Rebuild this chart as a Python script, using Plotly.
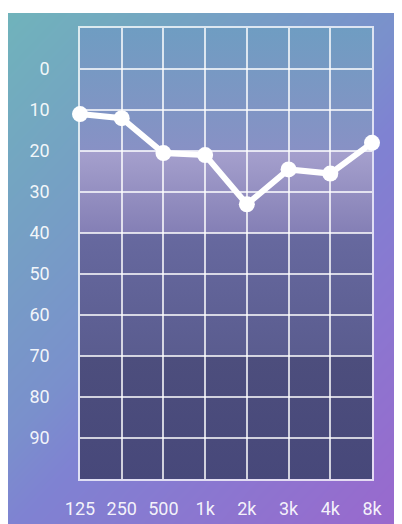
import plotly.graph_objects as go

# ---- data ----
freq_labels = ["125", "250", "500", "1k", "2k", "3k", "4k", "8k"]
threshold_db = [11, 12, 20.5, 21, 33, 24.5, 25.5, 18]
y_ticks = list(range(-10, 101, 10))
y_ticktext = ["" if v in (-10, 100) else str(v) for v in y_ticks]
band_edges = [-10, 20, 40, 70, 100]
band_colors = [("#6f9dc2", "#8891c5"), ("#a5a0cd", "#847fb5"),
               ("#67699f", "#5a5c8f"), ("#4d4e7d", "#47487a")]

W, H = 402, 524
OFF = 8  # page body margin compensation
# background corner colours
TL, TR, BL, BR = "#70b3bb", "#7a90cc", "#7f82d2", "#9b67cd"

fig = go.Figure()

# diagonal gradient background
fig.add_trace(go.Heatmap(
    x=[0, 1], y=[0, 1], z=[[0.55, 1.0], [0.0, 0.45]],
    colorscale=[[0, TL], [0.45, TR], [0.55, BL], [1, BR]],
    zmin=0, zmax=1, zsmooth="best", showscale=False, hoverinfo="skip",
    xaxis="x", yaxis="y"))

# hearing-level bands
for i in range(len(band_edges) - 1):
    y0, y1 = band_edges[i], band_edges[i + 1]
    top, bot = band_colors[i]
    fig.add_trace(go.Scatter(
        x=[freq_labels[0], freq_labels[-1], freq_labels[-1], freq_labels[0], freq_labels[0]],
        y=[y0, y0, y1, y1, y0],
        mode="lines", line=dict(width=0), fill="toself",
        fillgradient=dict(type="vertical", colorscale=[[0, top], [1, bot]],
                          start=y0, stop=y1),
        hoverinfo="skip", xaxis="x2", yaxis="y2"))

# audiogram line
fig.add_trace(go.Scatter(
    x=freq_labels, y=threshold_db, mode="lines+markers",
    line=dict(color="white", width=6),
    marker=dict(color="white", size=16),
    cliponaxis=False, xaxis="x3", yaxis="y3"))

grid = "rgba(255,255,255,0.75)"
dom_x = [(80 - OFF) / W, (372 - OFF) / W]
dom_y = [1 - (479 - OFF) / H, 1 - (28 - OFF) / H]
font = dict(family="Roboto", size=18, color="rgba(255,255,255,0.92)")

fig.update_layout(
    template="none",
    width=W, height=H, margin=dict(l=0, r=0, t=0, b=0, pad=0), autosize=False,
    paper_bgcolor="white", plot_bgcolor="rgba(0,0,0,0)", showlegend=False,
    xaxis=dict(domain=[0, 1], range=[0, 1], visible=False, automargin=False),
    yaxis=dict(domain=[0, 1 - (13 - OFF) / H], range=[0, 1], visible=False,
               automargin=False),
    xaxis2=dict(domain=dom_x, type="category", categoryarray=freq_labels,
                range=[0, len(freq_labels) - 1], visible=False, anchor="y2",
                automargin=False),
    yaxis2=dict(domain=dom_y, range=[100, -10], visible=False, anchor="x2",
                automargin=False),
    xaxis3=dict(domain=dom_x, type="category", categoryarray=freq_labels,
                range=[0, len(freq_labels) - 1], anchor="y3", automargin=False,
                showgrid=True, gridcolor=grid, gridwidth=1.5,
                showline=True, mirror=True, linecolor=grid, linewidth=1.5,
                ticks="", tickfont=font, ticklabelstandoff=13, zeroline=False),
    yaxis3=dict(domain=dom_y, range=[100, -10], anchor="x3", automargin=False,
                tickvals=y_ticks, ticktext=y_ticktext,
                showgrid=True, gridcolor=grid, gridwidth=1.5,
                showline=True, mirror=True, linecolor=grid, linewidth=1.5,
                ticks="", tickfont=font, ticklabelstandoff=25, zeroline=False),
)

fig.write_html("out.html")
